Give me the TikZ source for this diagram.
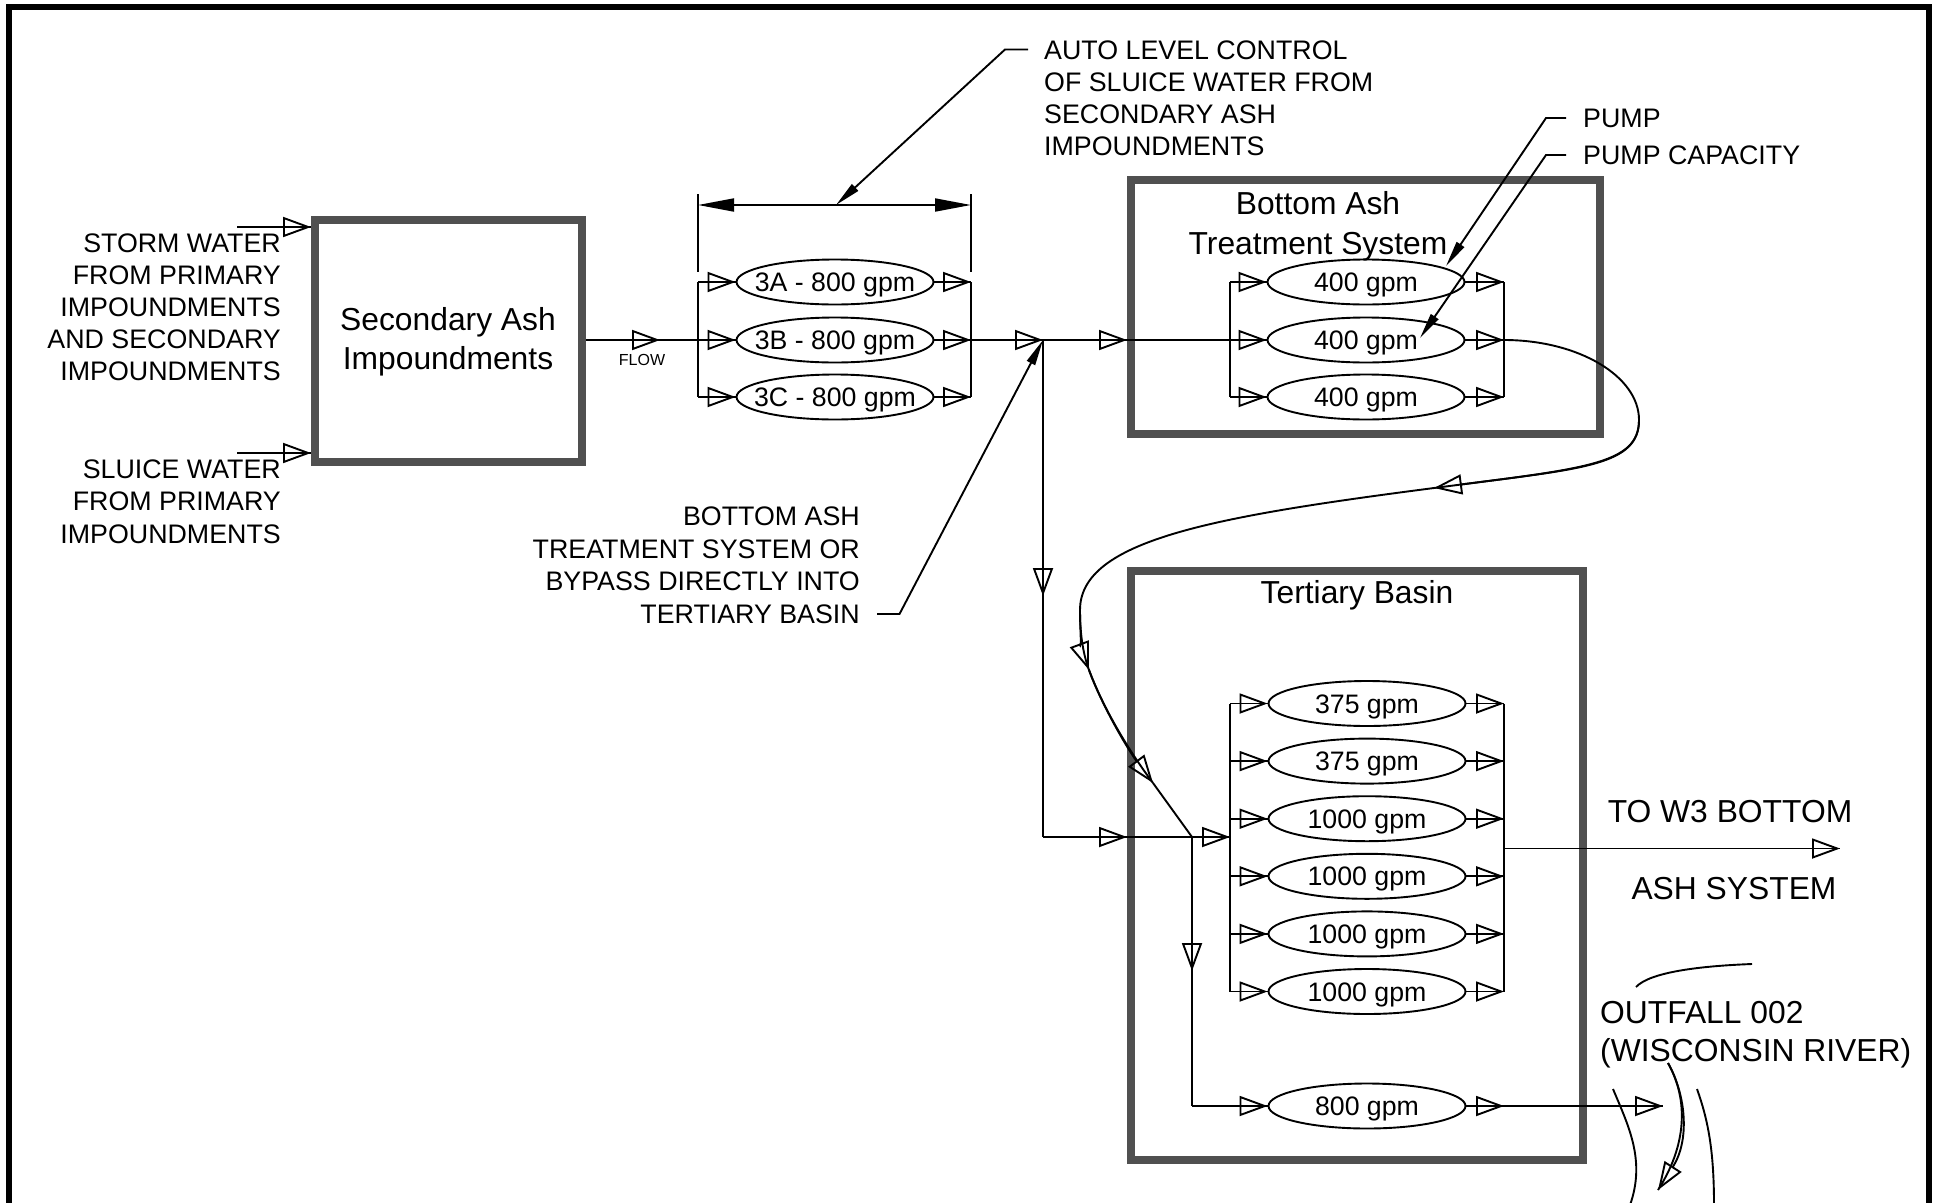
\documentclass[tikz,border=0pt]{standalone}
\usepackage{fontspec}
\setmainfont{Liberation Sans}
\usetikzlibrary{arrows.meta,shapes.geometric}
\definecolor{boxgray}{RGB}{80,80,80}
\tikzset{
  ln/.style={line width=1.9pt},
  flow/.style={ln, -{Triangle[open, length=28pt, width=20pt]}, postaction={draw, ln, arrows=-}},
  lead/.style={ln, -{Triangle[length=26pt, width=9pt]}},
  dimline/.style={ln, {Triangle[length=36pt, width=13pt]}-{Triangle[length=36pt, width=13pt]}},
  basin/.style={draw=boxgray, line width=8pt, rectangle, inner sep=0pt},
  lab/.style={inner sep=0pt, font=\fontsize{26.8}{32.2}\selectfont},
  ttl/.style={inner sep=0pt, font=\fontsize{31.8}{38.5}\selectfont},
  gpm/.style={inner sep=0pt, font=\fontsize{26.7}{32}\selectfont, text height=19.1pt, text depth=0pt},
  pumpel/.style={draw, ellipse, ln, minimum width=197pt, minimum height=45pt, inner sep=0pt, label={[gpm]center:#1}},
}
\begin{document}
\begin{tikzpicture}[x=1pt, y=-1pt]
\useasboundingbox (0,0) rectangle (1940,1202);
\fill[white] (0,0) rectangle (1940,1202);
% outer frame
\draw[line width=6.5pt] (9,1240) -- (9,7) -- (1929,7) -- (1929,1240);

% basins
\node[basin, minimum width=267pt, minimum height=242pt] (secbox) at (448.5,341) {};
\node[basin, minimum width=469pt, minimum height=254pt] (batbox) at (1365.5,307) {};
\node[basin, minimum width=452pt, minimum height=589pt] (terbox) at (1357,865.5) {};

% titles (base anchor = baseline of last line)
\node[ttl, align=center, anchor=base] (sectxt) at (448,369) {Secondary Ash\\Impoundments};
\node[ttl, align=center, anchor=base, font=\fontsize{31.8}{39.5}\selectfont] (battxt) at (1318,254) {Bottom Ash\\Treatment System};
\node[ttl, anchor=base] (tertxt) at (1357,603.5) {Tertiary Basin};
\node[ttl, anchor=base] (w3a) at (1730,822.5) {TO W3 BOTTOM};
\node[ttl, anchor=base] (w3b) at (1734,899.5) {ASH SYSTEM};
\node[ttl, align=left, anchor=base west, font=\fontsize{31.8}{38}\selectfont] (outfall) at (1600,1061.5) {OUTFALL 002\\(WISCONSIN RIVER)};

% labels
\node[lab, align=right, anchor=base east] (storm) at (281,380.8) {STORM WATER\\FROM PRIMARY\\IMPOUNDMENTS\\AND SECONDARY\\IMPOUNDMENTS};
\node[lab, align=right, anchor=base east] (sluice) at (281,543) {SLUICE WATER\\FROM PRIMARY\\IMPOUNDMENTS};
\node[inner sep=0pt, font=\fontsize{16}{19}\selectfont, anchor=base] (flowlbl) at (642,365.7) {FLOW};
\node[lab, align=left, anchor=base west] (autotxt) at (1044,155.6) {AUTO LEVEL CONTROL\\OF SLUICE WATER FROM\\SECONDARY ASH\\IMPOUNDMENTS};
\node[lab, anchor=base west] (pumptxt) at (1583,127) {PUMP};
\node[lab, anchor=base west] (captxt) at (1583,164.6) {PUMP CAPACITY};
\node[lab, align=right, anchor=base east, font=\fontsize{26.8}{32.6}\selectfont] (bypasstxt) at (860,623.4) {BOTTOM ASH\\TREATMENT SYSTEM OR\\BYPASS DIRECTLY INTO\\TERTIARY BASIN};

% pumps
\node[pumpel={3A - 800 gpm}] (pA) at (835,282) {};
\node[pumpel={3B - 800 gpm}] (pB) at (835,340) {};
\node[pumpel={3C - 800 gpm}] (pC) at (835,397) {};
\node[pumpel={400 gpm}] (b1) at (1366,282) {};
\node[pumpel={400 gpm}] (b2) at (1366,340) {};
\node[pumpel={400 gpm}] (b3) at (1366,397) {};
\node[pumpel={375 gpm}] (t1) at (1367,703.5) {};
\node[pumpel={375 gpm}] (t2) at (1367,761.1) {};
\node[pumpel={1000 gpm}] (t3) at (1367,818.7) {};
\node[pumpel={1000 gpm}] (t4) at (1367,876.3) {};
\node[pumpel={1000 gpm}] (t5) at (1367,933.9) {};
\node[pumpel={1000 gpm}] (t6) at (1367,991.5) {};
\node[pumpel={800 gpm}] (t7) at (1367,1106) {};

% coordinates
\coordinate (pmL) at (698,282); \coordinate (pmR) at (971,282);
\coordinate (bmL) at (1230,282); \coordinate (bmR) at (1504,282);
\coordinate (tmL) at (1230,703); \coordinate (tmR) at (1504,703);
\coordinate (stormS) at (237,227); \coordinate (sluiceS) at (237,453);
\coordinate (flowtip) at (660,340);
\coordinate (J1) at (1043,340);
\coordinate (bypDown) at (1043,596);
\coordinate (bypCorner) at (1043,837);
\coordinate (J2) at (1192,837);
\coordinate (J2down) at (1192,971);
\coordinate (J2corner) at (1192,1106);
\coordinate (rivtip) at (1663,1106);
\coordinate (w3tip) at (1840,848.5);
\coordinate (extLt) at (698,194); \coordinate (extLb) at (698,272);
\coordinate (extRt) at (971,194); \coordinate (extRb) at (971,272);
\coordinate (dimL) at (698,205); \coordinate (dimR) at (971,205);
\coordinate (dimMid) at (836,205);
\coordinate (autoA) at (1028,49.5); \coordinate (autoK) at (1005,49.5);
\coordinate (pumpA) at (1566,118); \coordinate (pumpK) at (1546,118); \coordinate (pumpT) at (1446,266);
\coordinate (capA) at (1566,155); \coordinate (capK) at (1546,155); \coordinate (capT) at (1420,338);
\coordinate (bypA) at (877,614); \coordinate (bypK) at (899.5,614);
\coordinate (cR) at (1639,420);
\coordinate (cT1) at (1434,488);
\coordinate (cL) at (1080,610);
\coordinate (cT2) at (1089,670);
\coordinate (cT3) at (1153,783);

% inputs
\draw[flow] (stormS) -- (stormS -| secbox.west);
\draw[flow] (sluiceS) -- (sluiceS -| secbox.west);
\draw[flow] (secbox.east |- flowtip) -- (flowtip);
\draw[ln] (flowtip) -- (pmL |- pB);

% pump manifold 3A-3C
\draw[ln] (pmL |- pA) -- (pmL |- pC);
\draw[ln] (pmR |- pA) -- (pmR |- pC);
\foreach \p in {pA,pB,pC}{
  \draw[flow] (pmL |- \p) -- (\p.west);
  \draw[flow] (\p.east) -- (pmR |- \p);
}
% dimension
\draw[ln] (extLt) -- (extLb);
\draw[ln] (extRt) -- (extRb);
\draw[dimline] (dimL) -- (dimR);
\draw[lead] (autoA) -- (autoK) -- (dimMid);

% to junction and bottom ash
\draw[flow] (pmR |- pB) -- (J1);
\draw[flow] (J1) -- (J1 -| batbox.west);
\draw[ln] (J1 -| batbox.west) -- (bmL |- b2);
\draw[ln] (bmL |- b1) -- (bmL |- b3);
\draw[ln] (bmR |- b1) -- (bmR |- b3);
\foreach \p in {b1,b2,b3}{
  \draw[flow] (bmL |- \p) -- (\p.west);
  \draw[flow] (\p.east) -- (bmR |- \p);
}
\draw[lead] (pumpA) -- (pumpK) -- (pumpT);
\draw[lead] (capA) -- (capK) -- (capT);
\draw[lead] (bypA) -- (bypK) -- (J1);

% bypass
\draw[flow] (J1) -- (bypDown);
\draw[ln] (bypDown) -- (bypCorner);
\draw[flow] (bypCorner) -- (bypCorner -| terbox.west);
\draw[ln] (bypCorner -| terbox.west) -- (J2);
\draw[flow] (J2) -- (tmL |- J2);

% curve from bottom ash to tertiary
\draw[ln] (bmR |- b2) .. controls (1578,340) and (1639,376) .. (cR);
\draw[flow] (cR) .. controls (1639,465) and (1584,468.5) .. (cT1);
\draw[ln] (cT1) .. controls (1214,516.6) and (1080,540) .. (cL);
\draw[flow] (cL) .. controls (1080,630) and (1082,651) .. (cT2);
\draw[flow] (cT2) .. controls (1103,708) and (1129,751) .. (cT3);
\draw[ln] (cT3) -- (J2);

% tertiary manifold
\draw[ln] (tmL |- t1) -- (tmL |- t6);
\draw[ln] (tmR |- t1) -- (tmR |- t6);
\foreach \p in {t1,t2,t3,t4,t5,t6}{
  \draw[flow] (tmL |- \p) -- (\p.west);
  \draw[flow] (\p.east) -- (tmR |- \p);
}
\draw[flow] (tmR |- w3tip) -- (w3tip);

% 800 gpm branch
\draw[flow] (J2) -- (J2down);
\draw[ln] (J2down) -- (J2corner);
\draw[flow] (J2corner) -- (t7.west);
\draw[flow] (t7.east) -- (tmR |- t7);
\draw[flow] (tmR |- t7) -- (rivtip);

% river
\draw[ln] (1613,1089) .. controls (1628,1125) and (1646,1160) .. (1630,1205);
\draw[ln] (1697,1089) .. controls (1708,1120) and (1714,1150) .. (1714,1205);
\draw[flow] (1668,1063) .. controls (1686,1095) and (1690,1140) .. (1658,1190);
\draw[ln] (1636,987) .. controls (1650,972) and (1700,966) .. (1752,964);
\end{tikzpicture}
\end{document}
